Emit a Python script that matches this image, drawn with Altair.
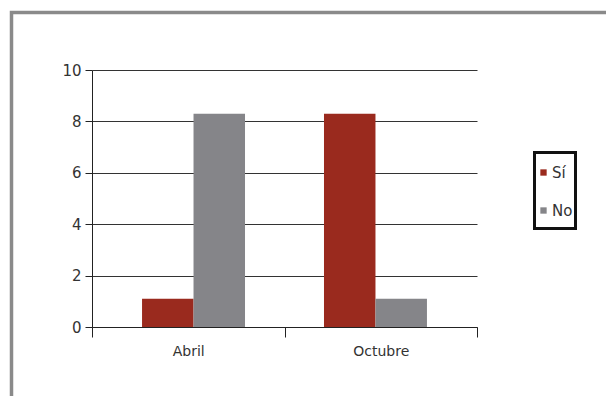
import altair as alt
import pandas as pd

months = ["Abril", "Octubre"]
series = ["Sí", "No"]
si_values = [1.1, 8.3]
no_values = [8.3, 1.1]
y_ticks = [0, 2, 4, 6, 8, 10]
colors = ["#9A2A1E", "#858589"]

rows = []
for i, m in enumerate(months):
    rows.append({"mes": m, "serie": series[0], "valor": si_values[i]})
    rows.append({"mes": m, "serie": series[1], "valor": no_values[i]})
df = pd.DataFrame(rows)

W, H = 385, 257
FONT = "DejaVu Sans"

y_enc = alt.Y(
    "valor:Q",
    scale=alt.Scale(domain=[0, 10]),
    axis=alt.Axis(title=None, values=y_ticks, tickSize=7, tickColor="#222",
                  domainColor="#222", labelPadding=4, labelFontSize=15,
                  labelColor="#333", labelFont=FONT, grid=True,
                  gridColor="#333", gridOpacity=1),
)

axis_layer = alt.Chart(df).mark_point(opacity=0).encode(
    x=alt.X(
        "mes:N", sort=months,
        scale=alt.Scale(paddingInner=0, paddingOuter=0),
        axis=alt.Axis(title=None, labelAngle=0, tickBand="extent", tickSize=10,
                      tickColor="#222", domainColor="#222", labelPadding=7,
                      labelFontSize=14, labelColor="#333", labelFont=FONT, grid=False),
    ),
    y=y_enc,
)

bars = alt.Chart(df).mark_bar().encode(
    x=alt.X("mes:N", sort=months,
            scale=alt.Scale(paddingInner=0, paddingOuter=0.058), axis=None),
    xOffset=alt.XOffset("serie:N", sort=series,
                        scale=alt.Scale(domain=series, paddingInner=0, paddingOuter=0.767)),
    y=y_enc,
    color=alt.Color(
        "serie:N", sort=series,
        scale=alt.Scale(domain=series, range=colors),
        legend=alt.Legend(title=None, orient="none", legendX=444, legendY=95,
                          padding=0, symbolType="square", symbolSize=40,
                          symbolStrokeWidth=0, labelFontSize=15, labelColor="#333",
                          labelFont=FONT, rowPadding=22, labelOffset=1),
    ),
)

one = pd.DataFrame({"k": [0]})

frame = alt.Chart(one).mark_rect(fill=None, stroke="#8a8a8a", strokeWidth=3.5).encode(
    x=alt.value(-80.5), x2=alt.value(700), y=alt.value(-57.5), y2=alt.value(500)
)

legend_box = alt.Chart(one).mark_rect(fill=None, stroke="#111", strokeWidth=3).encode(
    x=alt.value(442.5), x2=alt.value(483.5), y=alt.value(82.5), y2=alt.value(158.5)
)

chart = alt.layer(frame, axis_layer, bars, legend_box).resolve_scale(
    x="independent"
).properties(
    width=W, height=H,
    autosize=alt.AutoSizeParams(type="none"),
    padding={"left": 84, "top": 62, "right": 129, "bottom": 69},
    background="white",
).configure_view(stroke=None)

chart.save("out.html", embed_options={"renderer": "svg", "actions": False})
